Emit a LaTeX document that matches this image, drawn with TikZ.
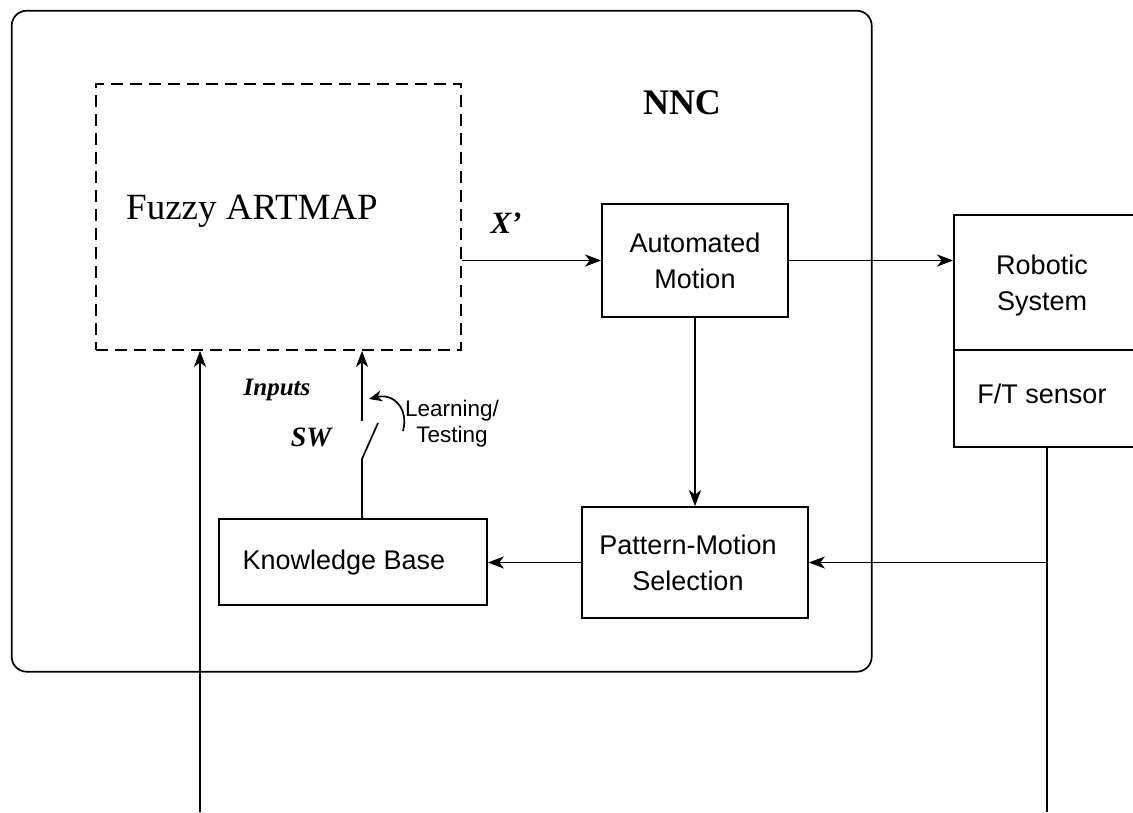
\documentclass[tikz,border=0pt]{standalone}
\usepackage{fontspec}
\setmainfont{Liberation Serif}
\setsansfont{Liberation Sans}
\usetikzlibrary{arrows.meta}
\begin{document}
\begin{tikzpicture}[x=1pt,y=-1pt,
  ln/.style={line width=1.7pt},
  arr/.style={ln,-{Stealth[length=16pt,width=12pt,inset=4.5pt]}},
  sfont/.style={font=\sffamily\fontsize{27}{36}\selectfont},
  blk/.style={draw,ln,rectangle,inner sep=0pt,sfont,align=center},
  sertxt/.style={inner sep=0pt,font=\rmfamily\fontsize{37}{40}\selectfont},
  itxt/.style={inner sep=0pt,font=\rmfamily\bfseries\itshape}
]
\useasboundingbox (0,0) rectangle (1133,812);
% outer NNC frame
\node[draw,ln,rounded corners=15pt,minimum width=860pt,minimum height=661pt,inner sep=0pt] (nnc) at (441.7,341.2) {};
\node[inner sep=0pt,font=\rmfamily\bfseries\fontsize{36}{40}\selectfont] (nnct) at (682,103) {NNC};
% Fuzzy ARTMAP dashed box
\node[draw,ln,dash pattern=on 12pt off 7pt,minimum width=365pt,minimum height=266pt,inner sep=0pt] (fam) at (278.5,217) {};
\node[sertxt] (famt) at (252,211) {Fuzzy ARTMAP};
% blocks
\node[blk,minimum width=186pt,minimum height=113pt] (am) at (695,260.5) {Automated\\Motion};
\node[blk,minimum width=226pt,minimum height=111pt] (pms) at (695,562.5) {};
\node[inner sep=0pt,align=center,sfont] (pmst) at (688,563) {Pattern-Motion\\Selection};
\node[blk,minimum width=268pt,minimum height=86pt] (kb) at (353,562) {};
\node[inner sep=0pt,sfont] (kbt) at (344,563) {Knowledge Base};
\node[draw,ln,minimum width=190pt,minimum height=135pt,inner sep=0pt] (rob) at (1049,282.5) {};
\node[draw,ln,minimum width=190pt,minimum height=97pt,inner sep=0pt] (ft) at (1049,398.5) {};
\node[inner sep=0pt,align=center,sfont] (robt) at (1042,286) {Robotic\\System};
\node[inner sep=0pt,sfont] (ftt) at (1042,394) {F/T sensor};
% labels
\node[itxt,font=\rmfamily\bfseries\itshape\fontsize{31}{34}\selectfont] (xp) at (506,223) {X\textquoteright};
\node[itxt,font=\rmfamily\bfseries\itshape\fontsize{25}{30}\selectfont] (inp) at (277,390) {Inputs};
\node[itxt,font=\rmfamily\bfseries\itshape\fontsize{28}{32}\selectfont] (swt) at (311,437) {SW};
\node[inner sep=0pt,align=center,font=\sffamily\fontsize{22.5}{26}\selectfont] (lt) at (452,424) {Learning/\\Testing};
% connectors
\draw[arr] (am.west -| fam.east) -- (am.west);
\draw[arr] (am.east) -- (am.east -| rob.west);
\draw[arr] (am.south) -- (pms.north);
\coordinate (ftb) at (1047,812);
\draw[ln] (ft.south -| ftb) -- (ftb);
\draw[arr] (pms.east -| ftb) -- (pms.east);
\draw[arr] (pms.west) -- (pms.west -| kb.east);
% switch
\coordinate (sw1) at (362,459);
\coordinate (sw2) at (378,423);
\coordinate (sw3) at (362,421);
\draw[ln] (kb.north -| sw1) -- (sw1) -- (sw2);
\draw[arr] (sw3) -- (sw3 |- fam.south);
\coordinate (inb) at (200,812);
\draw[arr] (inb) -- (inb |- fam.south);
\coordinate (c1) at (403,431);
\coordinate (c2) at (369,399);
\draw[ln,-{Stealth[length=13pt,width=11pt,inset=4pt]}] (c1) .. controls (409,408) and (393,393) .. (c2);
\end{tikzpicture}
\end{document}
